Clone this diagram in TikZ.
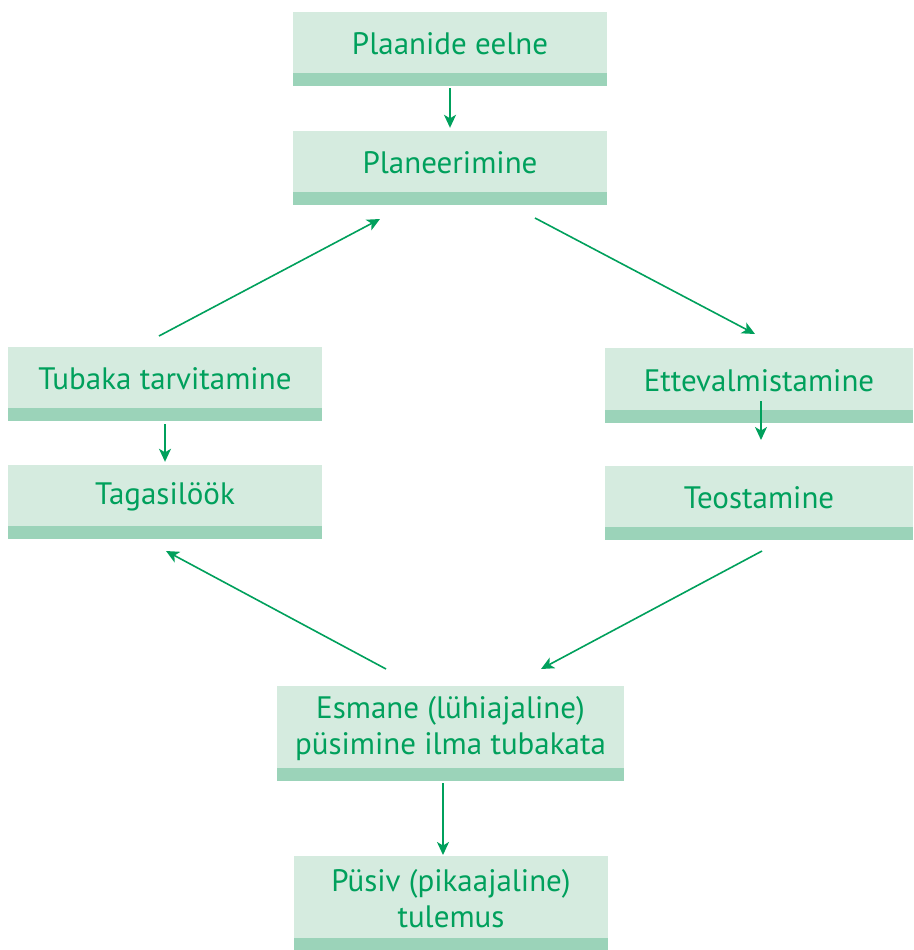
\documentclass[tikz,border=0pt]{standalone}
\usepackage{fontspec}
\setmainfont{PT Sans}
\usetikzlibrary{arrows.meta,calc}
\definecolor{tgreen}{RGB}{0,160,92}
\definecolor{boxfill}{RGB}{213,235,223}
\definecolor{bandfill}{RGB}{155,211,185}
\tikzset{
  box/.style={rectangle, fill=boxfill, inner sep=0pt, minimum width=#1,
    path picture={\fill[bandfill] ([yshift=13pt]path picture bounding box.south west) rectangle (path picture bounding box.south east);}},
  box/.default=314pt,
  txt/.style={text=tgreen, font=\fontsize{31}{36}\selectfont, align=center, inner sep=0pt},
  arr/.style={draw=tgreen, line width=1.6pt, -{Stealth[length=13pt,width=12pt,inset=3.5pt]}}
}
\begin{document}
\begin{tikzpicture}[x=1pt,y=-1pt]
\useasboundingbox (0,0) rectangle (913,950);
% boxes
\node[box, minimum height=74pt] (b1) at (450,49) {};
\node[box, minimum height=74pt] (b2) at (450,168) {};
\node[box, minimum height=74pt] (b3) at (165,384) {};
\node[box, minimum height=74pt] (b4) at (165,502) {};
\node[box=308pt, minimum height=75pt] (b5) at (759,385.5) {};
\node[box=308pt, minimum height=74pt] (b6) at (759,503) {};
\node[box=347pt, minimum height=95pt] (b7) at (450.5,733.5) {};
\node[box, minimum height=95pt] (b8) at (451,903.5) {};
% texts
\node[txt] (t1) at ($(b1.center)+(0,-5)$) {Plaanide eelne};
\node[txt] (t2) at ($(b2.center)+(0,-5)$) {Planeerimine};
\node[txt] (t3) at ($(b3.center)+(0,-5)$) {Tubaka tarvitamine};
\node[txt] (t4) at ($(b4.center)+(0,-5)$) {Tagasilöök};
\node[txt] (t5) at ($(b5.center)+(0,-5)$) {Ettevalmistamine};
\node[txt] (t6) at ($(b6.center)+(0,-5)$) {Teostamine};
\node[txt] (t7) at ($(b7.center)+(0,-5)$) {Esmane (lühiajaline)\\püsimine ilma tubakata};
\node[txt] (t8) at ($(b8.center)+(0,-5)$) {Püsiv (pikaajaline)\\tulemus};
% connector end points
\coordinate (p1) at (159,336);
\coordinate (p2) at (380,219);
\coordinate (p3) at (535,218);
\coordinate (p4) at (755,334);
\coordinate (p5) at (762,551);
\coordinate (p6) at (541,669);
\coordinate (p7) at (386,669);
\coordinate (p8) at (166,551);
\coordinate (e5s) at (761,401);
\coordinate (e5e) at (761,440);
\coordinate (e7s) at (443,783);
\coordinate (e7e) at (443,855);
% connectors
\draw[arr, shorten <=2pt, shorten >=3pt] (b1.south) -- (b2.north);
\draw[arr, shorten <=3pt, shorten >=3pt] (b3.south) -- (b4.north);
\draw[arr] (e5s) -- (e5e);
\draw[arr] (e7s) -- (e7e);
\draw[arr] (p1) -- (p2);
\draw[arr] (p3) -- (p4);
\draw[arr] (p5) -- (p6);
\draw[arr] (p7) -- (p8);
\end{tikzpicture}
\end{document}
